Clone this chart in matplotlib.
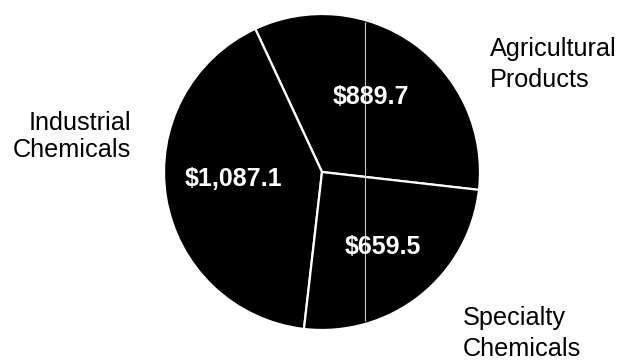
import matplotlib.pyplot as plt
from matplotlib.patches import Circle

# sales by segment, $ millions
segments = ["Agricultural\nProducts", "Industrial\nChemicals", "Specialty\nChemicals"]
sales = [889.7, 1087.1, 659.5]
value_labels = ["$889.7", "$1,087.1", "$659.5"]

plt.rcParams['font.family'] = ['Liberation Sans', 'DejaVu Sans']

fig = plt.figure(figsize=(6.25, 3.62), dpi=100)
ax = fig.add_axes([0, 0, 1, 1])

cx, cy, r = 322, 190, 158
wedges, _ = ax.pie(sales, center=(cx, cy), radius=r, startangle=-6.5,
                   colors=['black'] * 3, frame=True,
                   wedgeprops=dict(edgecolor='white', linewidth=1.6))
ax.set_xlim(0, 625)
ax.set_ylim(0, 362)
ax.set_aspect('equal')
ax.axis('off')

# values written inside the slices
value_pos = [(371, 265), (233, 183), (383, 115)]
for (x, y), txt in zip(value_pos, value_labels):
    ax.text(x, y, txt, color='white', fontsize=18, fontweight='bold',
            ha='center', va='center')

# segment names outside the pie (y is the baseline of the last line)
ax.text(490, 275, segments[0], fontsize=18.2, ha='left', va='baseline', linespacing=1.35)
ax.text(131, 205, segments[1], fontsize=18.2, ha='right', va='baseline', linespacing=1.18)
ax.text(463, 6, segments[2], fontsize=18.2, ha='left', va='baseline', linespacing=1.35)

# faint vertical rule running through the pie
rule, = ax.plot([365, 365], [0, 362], color='#c8c8c8', linewidth=0.8)
rule.set_clip_path(Circle((cx, cy), r - 2, transform=ax.transData))

fig.savefig('out.png', dpi=100)
